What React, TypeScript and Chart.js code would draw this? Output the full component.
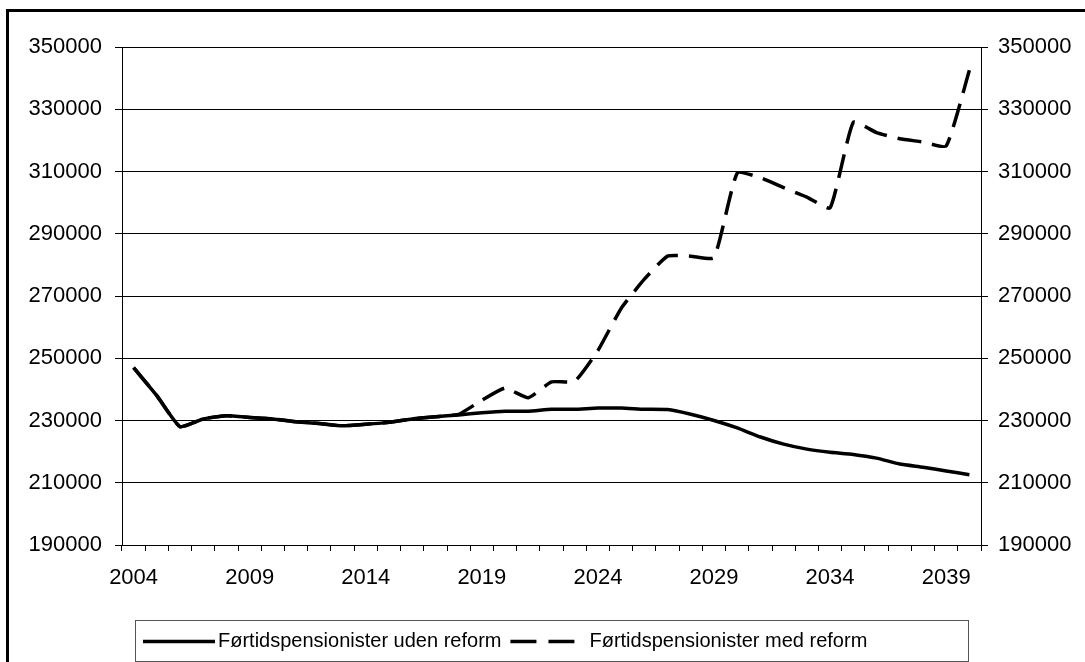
import React, { useEffect, useRef } from 'react';
import { Chart, registerables } from 'chart.js';

Chart.register(...registerables);

const years = [
  '2004', '2005', '2006', '2007', '2008', '2009', '2010', '2011', '2012', '2013',
  '2014', '2015', '2016', '2017', '2018', '2019', '2020', '2021', '2022', '2023',
  '2024', '2025', '2026', '2027', '2028', '2029', '2030', '2031', '2032', '2033',
  '2034', '2035', '2036', '2037', '2038', '2039', '2040',
];

const udenReform = [
  247000, 238000, 228000, 230500, 231500, 231000, 230500, 229600, 229000, 228300,
  228800, 229400, 230500, 231200, 231800, 232500, 233000, 233000, 233600, 233600,
  234000, 234000, 233600, 233500, 232000, 230000, 227600, 224700, 222400, 220800,
  219800, 219100, 217900, 216000, 215000, 213800, 212600,
];

const medReform = [
  247000, 238000, 228000, 230500, 231500, 231000, 230500, 229600, 229000, 228300,
  228800, 229400, 230500, 231200, 232000, 236500, 240400, 237300, 242400, 242600,
  252500, 266000, 275400, 282800, 282800, 282300, 309500, 308000, 304800, 301800,
  298300, 325800, 322500, 320500, 319500, 318200, 342500,
];

const seriesLabels = ['Førtidspensionister uden reform', 'Førtidspensionister med reform'];

const yMin = 190000;
const yMax = 350000;
const yStep = 20000;

const FONT = '"Liberation Sans", Arial, sans-serif';

const boxLegend = {
  id: 'boxLegend',
  afterDraw(chart: any) {
    const ctx = chart.ctx as CanvasRenderingContext2D;
    const area = chart.chartArea;
    const boxL = area.left + 13;
    const boxR = area.right - 13;
    const boxT = area.bottom + 75;
    const boxB = area.bottom + 116;
    const midY = (boxT + boxB) / 2 + 1;
    ctx.save();
    ctx.strokeStyle = '#555';
    ctx.lineWidth = 1;
    ctx.strokeRect(Math.round(boxL) + 0.5, Math.round(boxT) + 0.5, Math.round(boxR - boxL), Math.round(boxB - boxT));
    ctx.font = '20px ' + FONT;
    ctx.fillStyle = '#000';
    ctx.textBaseline = 'middle';
    const ds = chart.data.datasets;
    let x = boxL + 8;
    ctx.strokeStyle = '#000';
    ctx.lineWidth = ds[0].borderWidth;
    ctx.setLineDash([]);
    ctx.beginPath();
    ctx.moveTo(x, midY);
    ctx.lineTo(x + 72, midY);
    ctx.stroke();
    ctx.fillText(ds[0].label, x + 75, midY);
    x = x + 75 + ctx.measureText(ds[0].label).width + 9;
    ctx.lineWidth = ds[1].borderWidth;
    ctx.setLineDash([26, 12]);
    ctx.beginPath();
    ctx.moveTo(x, midY);
    ctx.lineTo(x + 70, midY);
    ctx.stroke();
    ctx.setLineDash([]);
    ctx.fillText(ds[1].label, x + 79, midY);
    ctx.restore();
  },
};

export default function App() {
  const canvasRef = useRef<HTMLCanvasElement | null>(null);

  useEffect(() => {
    if (!canvasRef.current) return;
    const chart = new Chart(canvasRef.current, {
      type: 'line',
      data: {
        labels: years,
        datasets: [
          {
            label: seriesLabels[0],
            data: udenReform,
            borderColor: '#000',
            borderWidth: 3.5,
            pointRadius: 0,
            tension: 0.15,
            yAxisID: 'y',
          },
          {
            label: seriesLabels[1],
            data: medReform,
            borderColor: '#000',
            borderWidth: 3.5,
            borderDash: [24, 11],
            pointRadius: 0,
            tension: 0.15,
            yAxisID: 'y',
          },
        ],
      },
      options: {
        animation: false,
        responsive: false,
        maintainAspectRatio: false,
        layout: { padding: { top: 47, bottom: 67, left: 0, right: 0 } },
        plugins: {
          legend: { display: false },
          tooltip: { enabled: false },
          title: { display: false },
        },
        scales: {
          x: {
            type: 'category',
            offset: true,
            grid: {
              offset: true,
              drawOnChartArea: false,
              drawTicks: true,
              tickLength: 6,
              tickColor: '#000',
              color: '#000',
            },
            border: { color: '#000', width: 1 },
            ticks: {
              autoSkip: false,
              maxRotation: 0,
              minRotation: 0,
              padding: 14,
              color: '#000',
              font: { family: FONT, size: 22 },
              callback: (_v: any, index: number) => (index % 5 === 0 ? years[index] : ''),
            },
            afterFit: (scale: any) => {
              scale.height = 50;
            },
          },
          y: {
            position: 'left',
            min: yMin,
            max: yMax,
            grid: {
              color: '#000',
              tickColor: '#000',
              tickLength: 7,
              lineWidth: 1,
            },
            border: { color: '#000', width: 1 },
            ticks: {
              stepSize: yStep,
              padding: 13,
              color: '#000',
              font: { family: FONT, size: 22 },
              callback: (v: any) => String(v),
            },
            afterFit: (scale: any) => {
              scale.width = 122;
            },
          },
          y1: {
            position: 'right',
            min: yMin,
            max: yMax,
            grid: {
              drawOnChartArea: false,
              color: '#000',
              tickColor: '#000',
              tickLength: 7,
            },
            border: { color: '#000', width: 1 },
            ticks: {
              stepSize: yStep,
              padding: 10,
              color: '#000',
              font: { family: FONT, size: 22 },
              callback: (v: any) => String(v),
            },
            afterFit: (scale: any) => {
              scale.width = 104;
            },
          },
        },
      },
      plugins: [boxLegend],
    });
    return () => chart.destroy();
  }, []);

  return (
    <div
      style={{
        position: 'absolute',
        left: 0,
        top: 0,
        width: 1085,
        height: 662,
        overflow: 'hidden',
        background: '#fff',
      }}
    >
      <div
        style={{
          position: 'absolute',
          left: 6,
          top: 9,
          width: 1100,
          height: 700,
          border: '3px solid #000',
          boxSizing: 'border-box',
        }}
      />
      <canvas
        ref={canvasRef}
        width={1085}
        height={662}
        style={{ position: 'absolute', left: 0, top: 0, width: 1085, height: 662 }}
      />
    </div>
  );
}
